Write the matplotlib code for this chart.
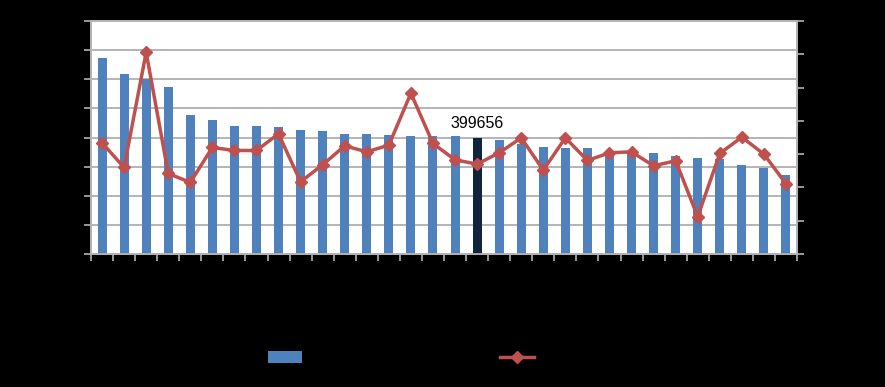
import matplotlib.pyplot as plt
import numpy as np

# values (left axis: amounts, right axis: rate)
amounts = [673000, 618000, 600000, 574000, 477000, 459000, 441000, 441000,
           436000, 427000, 422000, 413000, 413000, 409000, 404000, 404000,
           404000, 399656, 391000, 377000, 368000, 363000, 363000, 354000,
           350000, 347000, 336000, 331000, 325000, 304000, 295000, 272000]
rates = [3.34, 2.60, 6.06, 2.42, 2.15, 3.20, 3.11, 3.11,
         3.61, 2.17, 2.68, 3.25, 3.07, 3.27, 4.83, 3.32,
         2.83, 2.70, 3.04, 3.49, 2.52, 3.49, 2.81, 3.04,
         3.07, 2.65, 2.80, 1.12, 3.02, 3.51, 3.00, 2.11]
highlight = 17
left_ticks = list(range(0, 800001, 100000))
right_ticks = list(range(0, 8))

bar_color = "#4f81bd"
dark_color = "#10243e"
line_color = "#c0504d"
grid_color = "#b4b4b4"

plt.rcParams['font.family'] = ['Liberation Sans', 'DejaVu Sans']

fig = plt.figure(figsize=(8.85, 3.87), dpi=100, facecolor="black")
ax = fig.add_axes([91/885, 1 - 254/387, 706/885, 233/387])
ax.set_facecolor("white")

x = np.arange(len(amounts))
colors = [dark_color if i == highlight else bar_color for i in x]
ax.bar(x, amounts, width=0.41, color=colors, zorder=3,
       label="Importo")
ax.set_xlim(-0.5, len(amounts) - 0.5)
ax.set_ylim(0, 800000)
ax.set_yticks(left_ticks)
ax.set_yticklabels([str(v) for v in left_ticks], color="black", fontsize=9)
ax.yaxis.grid(True, color=grid_color, linewidth=1.4, zorder=0)
ax.set_xticks(np.arange(-0.5, len(amounts), 1.0))
ax.set_xticklabels([])
ax.tick_params(axis="both", colors=grid_color, length=5, width=1.2,
               labelcolor="black")

ax.annotate(str(amounts[highlight]), (highlight, amounts[highlight]),
            xytext=(0, 5), textcoords="offset points", ha="center",
            va="bottom", fontsize=11.5, color="black", zorder=5)

ax2 = ax.twinx()
ax2.plot(x, rates, color=line_color, linewidth=2.5, marker="D",
         markersize=6, zorder=4, label="Variazione")
ax2.set_ylim(0, 7)
ax2.set_yticks(right_ticks)
ax2.set_yticklabels([str(v) for v in right_ticks], color="black", fontsize=9)
ax2.tick_params(axis="y", colors=grid_color, length=5, width=1.2,
                labelcolor="black")

for a in (ax, ax2):
    for side in ("left", "right", "bottom", "top"):
        a.spines[side].set_color(grid_color)
        a.spines[side].set_linewidth(1.3)

h1, l1 = ax.get_legend_handles_labels()
h2, l2 = ax2.get_legend_handles_labels()
fig.legend(h1 + h2, l1 + l2, loc="center", ncol=2, frameon=False,
           bbox_to_anchor=(0.496, 1 - 358/387), fontsize=10,
           handlelength=2.5, handleheight=0.9, columnspacing=10,
           labelcolor="black")

fig.savefig("out.png", dpi=100, facecolor="black")
